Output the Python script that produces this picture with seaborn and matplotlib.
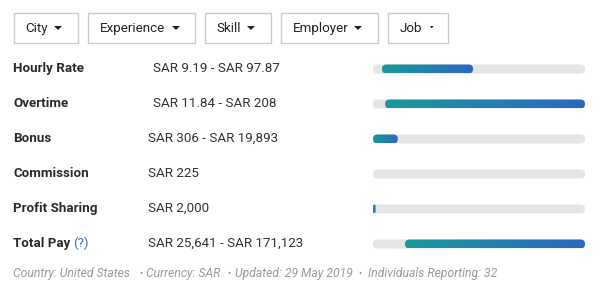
import numpy as np
import pandas as pd
import seaborn as sns
import matplotlib
matplotlib.use("Agg")
import matplotlib.pyplot as plt
from matplotlib.patches import FancyBboxPatch, Rectangle, Polygon
from matplotlib.colors import LinearSegmentedColormap

# ---- data ----
filters = ["City", "Experience", "Skill", "Employer", "Job"]
labels = ["Hourly Rate", "Overtime", "Bonus", "Commission", "Profit Sharing", "Total Pay"]
ranges = ["SAR 9.19 - SAR 97.87", "SAR 11.84 - SAR 208", "SAR 306 - SAR 19,893",
          "SAR 225", "SAR 2,000", "SAR 25,641 - SAR 171,123"]
bar_start = [4.2, 5.7, 0.0, np.nan, 0.0, 15.1]   # percent of track
bar_end = [47.2, 100.0, 11.7, np.nan, 1.2, 100.0]
footer_parts = ["Country: United States", "Currency: SAR", "Updated: 29 May 2019",
                "Individuals Reporting: 32"]

sns.set_theme(style="white")
plt.rcParams["font.family"] = ["Roboto", "DejaVu Sans"]

W, H = 600, 289
fig = plt.figure(figsize=(W / 100, H / 100), dpi=100)
bg = fig.add_axes([0, 0, 1, 1])
bg.set_xlim(0, W)
bg.set_ylim(H, 0)
bg.axis("off")

# ---- filter buttons ----
btn_x = [13, 87, 204, 280, 387]
btn_w = [65, 108, 67, 98, 61]
tri_x = [54, 172, 247, 354, 430]
tri_w = [8, 8, 8, 8, 3.5]
for name, bx, bw, tx, tw in zip(filters, btn_x, btn_w, tri_x, tri_w):
    bg.add_patch(Rectangle((bx + 0.5, 12.5), bw - 1, 30.5, facecolor="white",
                           edgecolor="#cccccc", lw=1.0))
    bg.text(bx + 12.5, 32, name, fontsize=9.6, color="#222222", va="baseline", ha="left")
    th = tw / 2 if tw > 4 else 2.5
    bg.add_patch(Polygon([(tx, 26), (tx + tw, 26), (tx + tw / 2, 26 + th)],
                         closed=True, facecolor="#222222", edgecolor="none"))

# ---- row texts ----
row_base = [72, 107, 142, 177, 212, 247]
val_x = [153, 153, 148, 148, 148, 148]
for lab, rng, yb, vx in zip(labels, ranges, row_base, val_x):
    bg.text(13, yb, lab, fontsize=9.6, fontweight="bold", color="#2b2b2b",
            va="baseline", ha="left")
    bg.text(vx, yb, rng, fontsize=9.6, color="#333333", va="baseline", ha="left")
bg.text(73, row_base[-1], "(?)", fontsize=9.6, color="#3a6cb8", va="baseline", ha="left")

# footer: segments at their own x positions, bullets between
seg_x = [13, 146.5, 235, 367.5]
bul_x = [141.5, 228.5, 360]
for s, sx in zip(footer_parts, seg_x):
    bg.text(sx, 277, s, fontsize=8.75, style="italic", color="#9a9a9a",
            va="baseline", ha="left")
for bx in bul_x:
    bg.text(bx, 277, "\u2022", fontsize=7, color="#9a9a9a", va="baseline", ha="center")

# ---- bars ----
left_px, right_px = 373, 585
top_px, bot_px = 69 - 17.5, 244 + 17.5
ax = fig.add_axes([left_px / W, 1 - bot_px / H, (right_px - left_px) / W, (bot_px - top_px) / H])
bar_h = 9 / 35.0

df_track = pd.DataFrame({"label": labels, "val": [100.0] * len(labels)})
sns.barplot(data=df_track, x="val", y="label", order=labels, orient="h",
            color="#e5e5e5", width=bar_h, ax=ax, saturation=1)
n_track = len(ax.patches)

df_bar = pd.DataFrame({"label": labels, "start": bar_start, "end": bar_end}).dropna()
sns.barplot(data=df_bar, x="end", y="label", order=labels, orient="h",
            color="#2a7fb0", width=bar_h, ax=ax, saturation=1)

px_per_x = (right_px - left_px) / 100.0
px_per_y = 35.0
r_px = 4.5
rx = r_px / px_per_x
aspect = (r_px / px_per_y) / rx

cmap = LinearSegmentedColormap.from_list("g", ["#1a9a9a", "#2d67c0"])
grad = np.linspace(0, 1, 256).reshape(1, -1)

patches = list(ax.patches)
for i, p in enumerate(patches):
    x0, y0, w, h = p.get_x(), p.get_y(), p.get_width(), p.get_height()
    p.remove()
    if not np.isfinite(w) or w <= 0:
        continue
    is_track = i < n_track
    if not is_track:
        idx = int(round(y0 + h / 2))
        s = bar_start[idx]
        x0, w = s, bar_end[idx] - s
    rr = min(rx, w / 2)
    fp = FancyBboxPatch((x0, y0), w, h, boxstyle=f"round,pad=0,rounding_size={rr}",
                        mutation_aspect=aspect,
                        facecolor="#e5e5e5" if is_track else "none",
                        edgecolor="none", zorder=1 if is_track else 2)
    ax.add_patch(fp)
    if not is_track:
        im = ax.imshow(grad, extent=[x0, x0 + w, y0 + h, y0], aspect="auto",
                       cmap=cmap, interpolation="bilinear", zorder=3)
        im.set_clip_path(fp)

ax.set_xlim(0, 100)
ax.set_ylim(5.5, -0.5)
ax.axis("off")

fig.savefig("out.png", dpi=100)
